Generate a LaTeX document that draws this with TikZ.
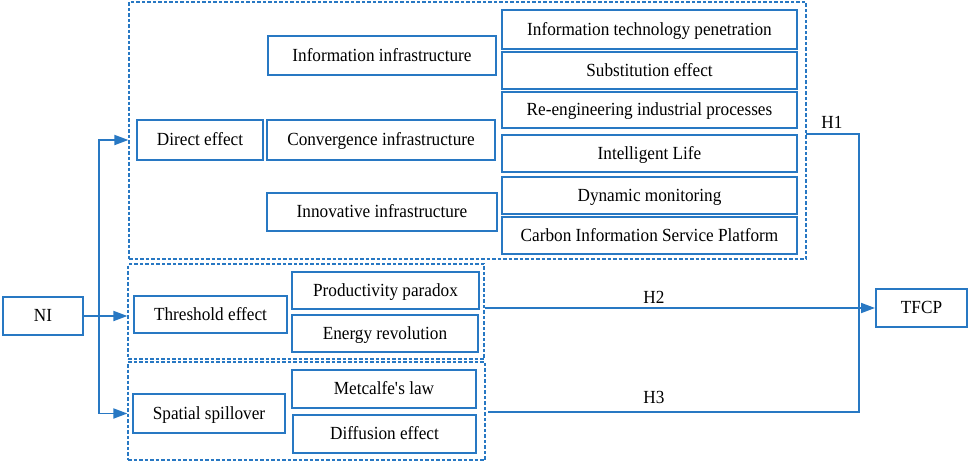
\documentclass[tikz,border=0pt]{standalone}
\usepackage{fontspec}
\setmainfont{Liberation Serif}[FakeStretch=0.93]
\usetikzlibrary{arrows.meta}
\definecolor{bl}{RGB}{40,120,195}
\tikzset{
  box/.style={draw=bl, line width=2pt, inner sep=0pt, align=center, text height=14pt, text depth=3pt, font=\fontsize{18.5}{21}\selectfont},
  grp/.style={draw=bl, line width=1.2pt, dash pattern=on 3.5pt off 2pt, inner sep=0pt},
  conn/.style={draw=bl, line width=1.8pt},
  arr/.style={conn, -{Triangle[length=14pt,width=10pt]}},
  lbl/.style={font=\fontsize{18.5}{21}\selectfont, inner sep=0pt}
}
\newcommand\bx[6]{\node[box, minimum width=#4pt, minimum height=#5pt] (#1) at (#2,#3) {#6};}
\newcommand\gp[5]{\node[grp, minimum width=#4pt, minimum height=#5pt] (#1) at (#2,#3) {};}
\begin{document}
\begin{tikzpicture}[x=1pt,y=-1pt]
\useasboundingbox (0,0) rectangle (969,463);
% groups
\gp{g1}{467.5}{130.5}{677}{257}
\gp{g2}{306}{311.5}{356}{95}
\gp{g3}{306.5}{411}{357}{98}
% direct effect group
\bx{direct}{200}{140}{126}{40}{Direct effect}
\bx{infoI}{382}{55.5}{228}{39}{Information infrastructure}
\bx{conv}{381}{140}{228}{40}{Convergence infrastructure}
\bx{innov}{382}{212}{230}{38}{Innovative infrastructure}
\bx{itp}{649.5}{29.5}{295}{39}{Information technology penetration}
\bx{subst}{649.5}{70.5}{295}{37}{Substitution effect}
\bx{reeng}{649.5}{110}{295}{36}{Re-engineering industrial processes}
\bx{intel}{649.5}{153.5}{295}{37}{Intelligent Life}
\bx{dyn}{649.5}{195.5}{295}{37}{Dynamic monitoring}
\bx{carbon}{649.5}{235.5}{295}{37}{Carbon Information Service Platform}
% threshold group
\bx{thresh}{210.5}{314.5}{153}{37}{Threshold effect}
\bx{prod}{385.5}{290.5}{187}{37}{Productivity paradox}
\bx{energy}{385}{333.5}{186}{37}{Energy revolution}
% spatial group
\bx{spatial}{209}{413.5}{152}{39}{Spatial spillover}
\bx{metc}{384}{389}{184}{38}{Metcalfe\textquotesingle s law}
\bx{diff}{384.5}{434}{183}{38}{Diffusion effect}
% ends
\bx{NI}{43}{316}{80}{38}{NI}
\bx{TFCP}{921.5}{308}{91}{38}{TFCP}
% connectors from NI
\coordinate (split) at (99,316);
\draw[arr] (NI.east) -- (NI.east -| g2.west);
\draw[arr] (split) |- (direct -| g1.west);
\draw[arr] (split) |- (spatial -| g3.west);
% H1/H3 join
\coordinate (h1a) at (806,134);
\coordinate (jtop) at (859,134);
\coordinate (jbot) at (859,412);
\coordinate (h3a) at (488,412);
\draw[conn] (h1a) -- (jtop) -- (jbot) -- (h3a);
% H2
\draw[arr] (g2.east |- TFCP) -- (TFCP.west);
% labels
\node[lbl] (H1) at (832,122) {H1};
\node[lbl] (H2) at (654,297) {H2};
\node[lbl] (H3) at (654,397) {H3};
\end{tikzpicture}
\end{document}
